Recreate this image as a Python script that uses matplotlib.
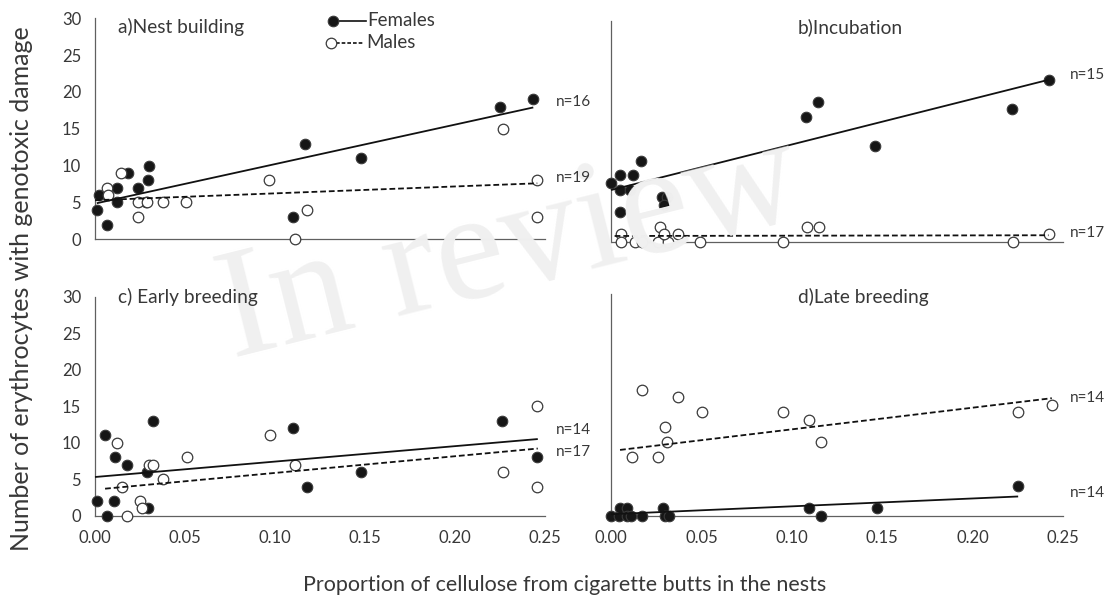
import matplotlib
matplotlib.use("Agg")
import matplotlib.pyplot as plt
from matplotlib.lines import Line2D

plt.rcParams['font.family'] = ['Lato', 'DejaVu Sans']

W, H = 1115, 603

# ---------------- data ----------------
# a) Nest building
a_fem_x = [0.002, 0.001, 0.0065, 0.0124, 0.0124, 0.0185, 0.024, 0.0283, 0.0296, 0.0302, 0.1167, 0.110, 0.1476, 0.225, 0.2435]
a_fem_y = [6, 4, 2, 7, 5, 9, 7, 5, 8, 10, 13, 3, 11, 18, 19]
a_mal_x = [0.0065, 0.007, 0.0143, 0.024, 0.024, 0.029, 0.038, 0.0506, 0.0969, 0.111, 0.1176, 0.2265, 0.2457, 0.2457]
a_mal_y = [7, 6, 9, 5, 3, 5, 5, 5, 8, 0, 4, 15, 8, 3]
a_fem_trend_x, a_fem_trend_y = [0.001, 0.2435], [4.9, 17.9]
a_mal_trend_x, a_mal_trend_y = [0.0, 0.2457], [5.3, 7.6]

# b) Incubation
b_fem_x = [0.0, 0.0051, 0.005, 0.0104, 0.0123, 0.0164, 0.005, 0.0283, 0.0308, 0.0293, 0.1077, 0.1143, 0.146, 0.222, 0.242]
b_fem_y = [8, 9, 7, 7, 9, 11, 4, 6, 6, 5, 17, 19, 13, 18, 22]
b_mal_x = [0.0057, 0.0057, 0.0132, 0.017, 0.0259, 0.0316, 0.027, 0.0293, 0.0368, 0.0491, 0.0949, 0.1083, 0.1153, 0.2226, 0.242]
b_mal_y = [1, 0, 0, 0, 0, 0, 2, 1, 1, 0, 0, 2, 2, 0, 1]
b_fem_trend_x, b_fem_trend_y = [0.0, 0.242], [7.0, 22.0]
b_mal_trend_x, b_mal_trend_y = [0.002, 0.242], [0.75, 0.85]

# c) Early breeding
c_fem_x = [0.001, 0.0065, 0.0056, 0.011, 0.0106, 0.0176, 0.029, 0.0296, 0.032, 0.110, 0.1176, 0.148, 0.226, 0.2457]
c_fem_y = [2, 0, 11, 8, 2, 7, 6, 1, 13, 12, 4, 6, 13, 8]
c_mal_x = [0.0124, 0.0148, 0.018, 0.025, 0.026, 0.030, 0.0324, 0.038, 0.051, 0.097, 0.111, 0.2265, 0.2457, 0.2457]
c_mal_y = [10, 4, 0, 2, 1, 7, 7, 5, 8, 11, 7, 6, 15, 4]
c_fem_trend_x, c_fem_trend_y = [0.0, 0.246], [5.3, 10.5]
c_mal_trend_x, c_mal_trend_y = [0.0056, 0.246], [3.7, 9.2]

# d) Late breeding
d_fem_x = [0.0, 0.0047, 0.005, 0.0089, 0.0089, 0.011, 0.0174, 0.0287, 0.0297, 0.0319, 0.1094, 0.1162, 0.1474, 0.2252]
d_fem_y = [0, 0, 1, 1, 0, 0, 0, 1, 0, 0, 1, 0, 1, 4]
d_mal_x = [0.0174, 0.0368, 0.0501, 0.0954, 0.1094, 0.0297, 0.0312, 0.0117, 0.0259, 0.116, 0.2252, 0.2438]
d_mal_y = [17, 16, 14, 14, 13, 12, 10, 8, 8, 10, 14, 15]
d_fem_trend_x, d_fem_trend_y = [0.0, 0.2252], [0.2, 2.6]
d_mal_trend_x, d_mal_trend_y = [0.005, 0.2438], [8.9, 15.9]

titles = ["a)Nest building", "b)Incubation", "c) Early breeding", "d)Late breeding"]
n_labels = [("n=16", "n=19"), ("n=15", "n=17"), ("n=14", "n=17"), ("n=14", "n=14")]
xticks = [0.00, 0.05, 0.10, 0.15, 0.20, 0.25]
xticklabels = ["0.00", "0.05", "0.10", "0.15", "0.20", "0.25"]
yticks = [0, 5, 10, 15, 20, 25, 30]
xlabel = "Proportion of cellulose from cigarette butts in the nests"
ylabel = "Number of erythrocytes with genotoxic damage"

# ---------------- figure ----------------
fig = plt.figure(figsize=(W / 100, H / 100), dpi=100)
fig.patch.set_facecolor('white')

def fx(px):
    return px / W

def fy(py):
    return 1 - py / H

TXT = '#383838'
SPINE = '#606060'

# watermark
fig.text(fx(510), fy(250), "In review", fontsize=112, family='Liberation Serif',
         color='#f0f0f0', rotation=14, ha='center', va='center', zorder=0)

rects = [
    (95, 18.3, 545, 239.3),
    (611, 21.0, 1063, 241.5),
    (95, 296.7, 545, 515.7),
    (611, 294.0, 1063, 515.7),
]

panels = [
    (a_fem_x, a_fem_y, a_mal_x, a_mal_y, a_fem_trend_x, a_fem_trend_y, a_mal_trend_x, a_mal_trend_y),
    (b_fem_x, b_fem_y, b_mal_x, b_mal_y, b_fem_trend_x, b_fem_trend_y, b_mal_trend_x, b_mal_trend_y),
    (c_fem_x, c_fem_y, c_mal_x, c_mal_y, c_fem_trend_x, c_fem_trend_y, c_mal_trend_x, c_mal_trend_y),
    (d_fem_x, d_fem_y, d_mal_x, d_mal_y, d_fem_trend_x, d_fem_trend_y, d_mal_trend_x, d_mal_trend_y),
]

title_pos = [(118, 27, 'left'), (850, 27, 'center'), (118, 297, 'left'), (863, 297, 'center')]
n_pos = [(556, 101.7, 178), (1070, 75, 233), (556, 430, 452), (1070, 398, 493)]

MS = 7.6
for i, (rect, data) in enumerate(zip(rects, panels)):
    l, t, r, b = rect
    ax = fig.add_axes([fx(l), fy(b), fx(r) - fx(l), (b - t) / H])
    ax.set_facecolor('none')
    fxs, fys, mxs, mys, ftx, fty, mtx, mty = data
    ax.plot(fxs, fys, linestyle='none', marker='o', ms=MS, mfc='#161616',
            mec='#3a3a3a', mew=0.8, clip_on=False, zorder=3)
    ax.plot(mxs, mys, linestyle='none', marker='o', ms=MS, mfc='white',
            mec='#3a3a3a', mew=0.9, clip_on=False, zorder=3)
    ax.plot(ftx, fty, color='#111111', lw=1.3, solid_capstyle='butt', zorder=4, clip_on=False)
    ax.plot(mtx, mty, color='#111111', lw=1.3, linestyle=(0, (3.2, 1.6)), zorder=4, clip_on=False)

    ax.set_xlim(0, 0.25)
    ax.set_ylim(0, 30)
    for s in ['top', 'right']:
        ax.spines[s].set_visible(False)
    for s in ['left', 'bottom']:
        ax.spines[s].set_color(SPINE)
        ax.spines[s].set_linewidth(0.9)
    ax.tick_params(length=0, labelsize=12, labelcolor=TXT, pad=10)
    ax.set_yticks(yticks)
    ax.set_xticks(xticks)
    if i in (0, 2):
        ax.set_yticklabels([str(v) for v in yticks])
    else:
        ax.set_yticklabels([])
    if i in (2, 3):
        ax.set_xticklabels(xticklabels)
    else:
        ax.set_xticklabels([])

    tx, ty, ha = title_pos[i]
    fig.text(fx(tx), fy(ty), titles[i], fontsize=13.8, color=TXT, ha=ha, va='center')
    nx, ny1, ny2 = n_pos[i]
    fig.text(fx(nx), fy(ny1), n_labels[i][0], fontsize=11, color=TXT, ha='left', va='center')
    fig.text(fx(nx), fy(ny2), n_labels[i][1], fontsize=11, color=TXT, ha='left', va='center')

# legend (panel a), drawn in figure pixel coords
fig.add_artist(Line2D([fx(338), fx(366)], [fy(21), fy(21)], color='#111111', lw=1.2))
fig.add_artist(Line2D([fx(333)], [fy(21)], marker='o', ms=MS, mfc='#161616', mec='#3a3a3a', mew=0.8, linestyle='none'))
fig.text(fx(367), fy(20), "Females", fontsize=13.5, color=TXT, ha='left', va='center')
fig.add_artist(Line2D([fx(336), fx(364)], [fy(43), fy(43)], color='#111111', lw=1.2, linestyle=(0, (2.2, 1.2))))
fig.add_artist(Line2D([fx(331)], [fy(43)], marker='o', ms=MS, mfc='white', mec='#3a3a3a', mew=0.9, linestyle='none'))
fig.text(fx(366), fy(43), "Males", fontsize=13.5, color=TXT, ha='left', va='center')

# axis labels
fig.text(fx(565), fy(585), xlabel, fontsize=15.5, color=TXT, ha='center', va='center')
fig.text(fx(22), fy(289), ylabel, fontsize=18, color=TXT, ha='center', va='center', rotation=90)

fig.savefig("out.png", dpi=100, facecolor='white')
